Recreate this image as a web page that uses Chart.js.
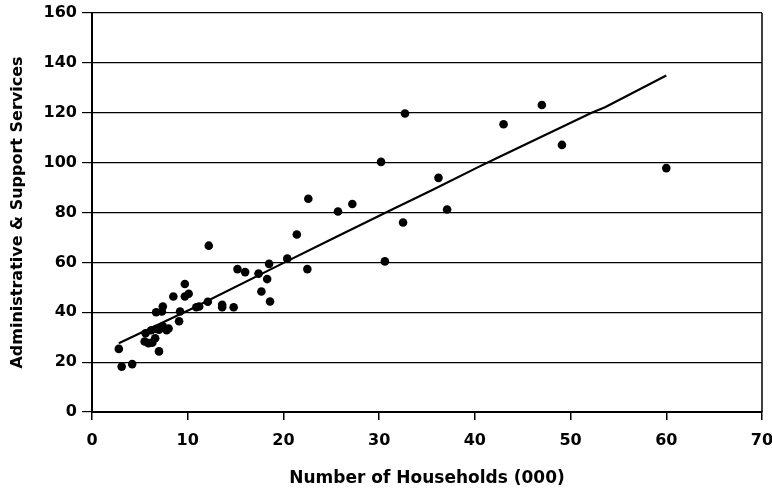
<!DOCTYPE html>
<html>
<head>
<meta charset="utf-8">
<script src="https://cdn.jsdelivr.net/npm/chart.js@4.4.1/dist/chart.umd.min.js"></script>
<style>
  html, body { margin: 0; padding: 0; background: #fff; }
  #wrap { width: 772px; height: 498px; }
</style>
</head>
<body>
<div id="wrap"><canvas id="myChart" width="772" height="498"></canvas></div>
<script>
// households (000) for each area
const households = [2.8, 3.1, 4.2, 7.0, 5.5, 5.9, 6.3, 6.6, 5.6, 6.2, 6.7, 7.0, 7.4, 7.8, 8.0,
	6.7, 7.3, 7.4, 9.2, 9.1, 8.5, 9.7, 10.1, 9.7, 10.9, 11.2, 12.1, 12.2, 13.6, 13.6, 14.8,
	15.2, 16.0, 17.4, 17.7, 18.3, 18.5, 18.6, 20.4, 21.4, 22.5, 22.6, 25.7, 27.2, 30.2, 30.6,
	32.5, 32.7, 36.2, 37.1, 43.0, 47.0, 49.1, 60.0];
// administrative & support services
const services = [25.3, 18.2, 19.2, 24.3, 28.3, 27.6, 27.8, 29.6, 31.6, 32.8, 33.3, 33.0, 34.4, 32.8, 33.5,
	40.0, 40.3, 42.3, 40.3, 36.4, 46.3, 46.3, 47.4, 51.3, 42.0, 42.3, 44.2, 66.7, 43.0, 42.0, 42.0,
	57.3, 56.1, 55.5, 48.3, 53.3, 59.4, 44.3, 61.5, 71.2, 57.3, 85.5, 80.4, 83.4, 100.3, 60.4,
	76.0, 119.7, 93.9, 81.2, 115.4, 123.1, 107.1, 97.8];

// fitted line
const fitX = [2.8, 10.2, 19.6, 25.6, 30.6, 35.5, 40.5, 42.7, 52.2, 53.6, 60.0];
const fitY = [27.6, 41.0, 59.0, 70.4, 79.8, 88.9, 98.5, 102.6, 120.0, 122.2, 134.9];

const xTicks = [0, 10, 20, 30, 40, 50, 60, 70];
const yTicks = [0, 20, 40, 60, 80, 100, 120, 140, 160];

const pts = households.map((h, i) => ({ x: h, y: services[i] }));
const fitPts = fitX.map((v, i) => ({ x: v, y: fitY[i] }));

const fnt = { family: "'DejaVu Sans', sans-serif", weight: 'bold' };

const rightBorder = {
	id: 'rightBorder',
	afterDraw(chart) {
		const { ctx, chartArea } = chart;
		ctx.save();
		ctx.strokeStyle = '#000';
		ctx.lineWidth = 1.5;
		ctx.beginPath();
		ctx.moveTo(chartArea.right, chartArea.top);
		ctx.lineTo(chartArea.right, chartArea.bottom);
		ctx.stroke();
		ctx.restore();
	}
};

const ctx = document.getElementById('myChart');

let grafico = new Chart(ctx, {
	type: 'scatter',
	data: {
		datasets: [
			{
				label: 'Areas',
				data: pts,
				backgroundColor: '#000',
				borderWidth: 0,
				pointRadius: 4.3,
				order: 1
			},
			{
				label: 'Fit',
				data: fitPts,
				showLine: true,
				borderColor: '#000',
				borderWidth: 2.2,
				pointRadius: 0,
				fill: false,
				order: 2
			}
		]
	},
	options: {
		responsive: false,
		animation: false,
		layout: { padding: { top: 13, right: 10, left: 0, bottom: 0 } },
		plugins: {
			legend: { display: false },
			tooltip: { enabled: false }
		},
		scales: {
			x: {
				type: 'linear',
				min: 0,
				max: 70,
				afterBuildTicks: (s) => { s.ticks = xTicks.map(v => ({ value: v })); },
				afterFit: (s) => { s.height = 86; s.paddingLeft = 0; s.paddingRight = 0; },
				ticks: { color: '#000', font: { ...fnt, size: 16 }, padding: 11 },
				grid: { drawOnChartArea: false, drawTicks: true, tickLength: 8, color: '#000', lineWidth: 1.5 },
				border: { display: true, color: '#000', width: 2 },
				title: {
					display: true,
					text: 'Number of Households (000)',
					color: '#000',
					font: { ...fnt, size: 17 },
					padding: { top: 0, bottom: 9 }
				}
			},
			y: {
				type: 'linear',
				min: 0,
				max: 160,
				afterBuildTicks: (s) => { s.ticks = yTicks.map(v => ({ value: v })); },
				afterFit: (s) => { s.width = 92; s.paddingTop = 0; s.paddingBottom = 0; },
				ticks: { color: '#000', font: { ...fnt, size: 16 }, padding: 5 },
				grid: { color: '#000', lineWidth: 1.2, tickLength: 10 },
				border: { display: true, color: '#000', width: 2 },
				title: {
					display: true,
					text: 'Administrative & Support Services',
					color: '#000',
					font: { ...fnt, size: 16 },
					padding: { top: 8, bottom: 0 }
				}
			}
		}
	},
	plugins: [rightBorder]
});
</script>
</body>
</html>
